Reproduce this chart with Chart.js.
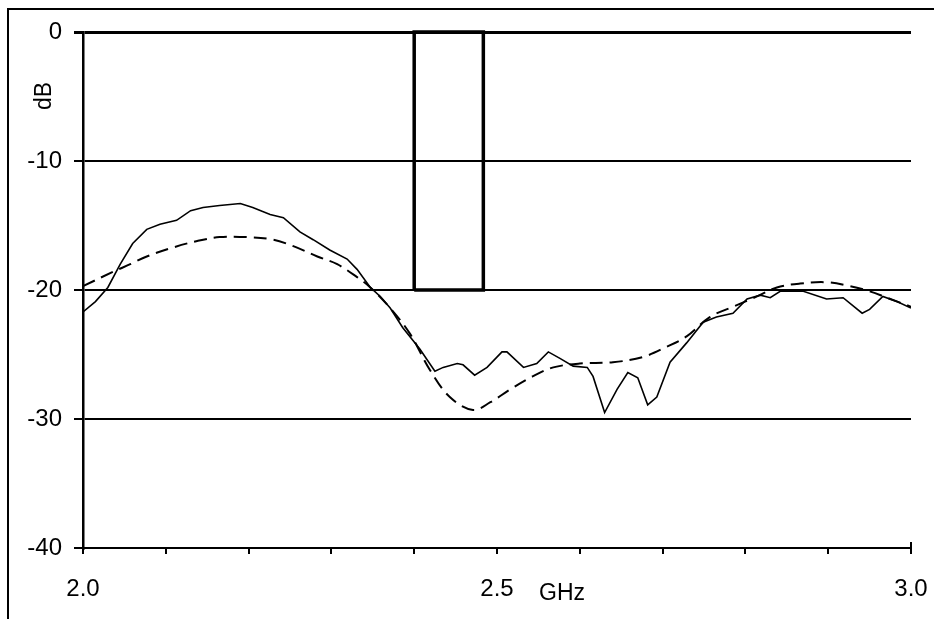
<!DOCTYPE html>
<html>
<head>
<meta charset="utf-8">
<script src="https://cdn.jsdelivr.net/npm/chart.js@4.4.1/dist/chart.umd.min.js"></script>
<style>
    body { margin: 0; background: #ffffff; }
    #wrap { position: relative; width: 934px; height: 619px; }
</style>
</head>
<body>
<div id="wrap"><canvas id="lossChart"></canvas></div>
<script>
// measured (solid)
const measFreq = [2.000, 2.015, 2.030, 2.045, 2.060, 2.077, 2.093, 2.113, 2.130, 2.145, 2.165, 2.190, 2.205, 2.226, 2.242, 2.262, 2.278, 2.298, 2.319, 2.331, 2.347, 2.359, 2.371, 2.386, 2.407, 2.425, 2.435, 2.452, 2.459, 2.473, 2.488, 2.506, 2.512, 2.532, 2.548, 2.562, 2.576, 2.592, 2.609, 2.616, 2.630, 2.645, 2.658, 2.670, 2.682, 2.693, 2.709, 2.729, 2.749, 2.765, 2.785, 2.802, 2.818, 2.830, 2.842, 2.870, 2.898, 2.918, 2.941, 2.950, 2.966, 2.983, 3.000];
const measDb = [-21.7, -20.9, -19.8, -18.0, -16.4, -15.3, -14.9, -14.6, -13.85, -13.6, -13.45, -13.3, -13.6, -14.15, -14.4, -15.5, -16.1, -16.9, -17.6, -18.4, -19.8, -20.5, -21.4, -22.9, -24.6, -26.3, -26.0, -25.7, -25.8, -26.6, -26.0, -24.8, -24.8, -26.0, -25.7, -24.8, -25.3, -25.9, -26.0, -26.7, -29.5, -27.7, -26.4, -26.8, -28.9, -28.3, -25.6, -24.1, -22.5, -22.1, -21.8, -20.7, -20.4, -20.6, -20.1, -20.1, -20.7, -20.6, -21.8, -21.5, -20.5, -20.9, -21.4];

// simulated (dashed)
const simFreq = [2.000, 2.036, 2.057, 2.077, 2.109, 2.138, 2.165, 2.198, 2.230, 2.254, 2.283, 2.307, 2.331, 2.347, 2.371, 2.395, 2.419, 2.443, 2.471, 2.492, 2.516, 2.543, 2.568, 2.600, 2.640, 2.676, 2.705, 2.729, 2.757, 2.785, 2.814, 2.838, 2.866, 2.898, 2.926, 2.950, 2.975, 3.000];
const simDb = [-19.7, -18.6, -18.0, -17.4, -16.7, -16.2, -15.9, -15.9, -16.1, -16.6, -17.4, -18.0, -19.0, -19.8, -21.4, -23.4, -26.2, -28.3, -29.3, -28.7, -27.7, -26.7, -26.0, -25.7, -25.6, -25.2, -24.4, -23.6, -22.1, -21.3, -20.5, -19.8, -19.5, -19.4, -19.7, -20.1, -20.7, -21.3];

// band mask box
const bandFreq = [2.4, 2.4, 2.4835, 2.4835, 2.4];
const bandDb = [-20, 0, 0, -20, -20];

const xLabels = ["2.0", "2.5", "3.0"];
const yTicks = [0, -10, -20, -30, -40];

function toPoints(xs, ys) {
    return xs.map((x, i) => ({ x: x, y: ys[i] }));
}

Chart.defaults.font.family = "'Liberation Sans', Arial, sans-serif";
Chart.defaults.color = "#000000";

const extras = {
    id: "extras",
    afterDraw(chart) {
        const c = chart.ctx;
        const x = chart.scales.x;
        const y = chart.scales.y;
        c.save();
        // outer frame
        c.strokeStyle = "#000";
        c.lineWidth = 2;
        c.beginPath();
        c.moveTo(8, 619);
        c.lineTo(8, 9);
        c.lineTo(934, 9);
        c.stroke();

        // end tick at 3.0 also rises above the axis
        const xe = x.getPixelForValue(3);
        const yb = y.getPixelForValue(-40);
        c.beginPath();
        c.moveTo(xe, yb - 6);
        c.lineTo(xe, yb);
        c.stroke();

        c.fillStyle = "#000";
        c.font = "23px 'Liberation Sans', Arial, sans-serif";
        c.textAlign = "center";
        c.textBaseline = "middle";
        c.fillText("GHz", 562, 594);

        c.translate(45, 96);
        c.rotate(-Math.PI / 2);
        c.fillText("dB", 0, 0);
        c.restore();
    }
};

new Chart(document.getElementById("lossChart"), {
    type: "scatter",
    data: {
        datasets: [
            {
                data: toPoints(measFreq, measDb),
                showLine: true,
                borderColor: "#000",
                borderWidth: 1.6,
                pointRadius: 0,
                tension: 0
            },
            {
                data: toPoints(simFreq, simDb),
                showLine: true,
                borderColor: "#000",
                borderWidth: 2,
                borderDash: [13, 7],
                pointRadius: 0,
                tension: 0.35
            },
            {
                data: toPoints(bandFreq, bandDb),
                showLine: true,
                borderColor: "#000",
                borderWidth: 3.5,
                pointRadius: 0,
                tension: 0,
                clip: false
            }
        ]
    },
    options: {
        responsive: true,
        maintainAspectRatio: false,
        animation: false,
        layout: {
            padding: { top: 32, right: 23, left: 0, bottom: 0 }
        },
        plugins: {
            legend: { display: false },
            tooltip: { enabled: false }
        },
        scales: {
            x: {
                type: "linear",
                min: 2,
                max: 3,
                afterFit(scale) {
                    scale.height = 71;
                    scale.paddingLeft = 0;
                    scale.paddingRight = 0;
                },
                border: { display: true, color: "#000", width: 2 },
                grid: {
                    drawOnChartArea: false,
                    drawTicks: true,
                    tickLength: 6,
                    color: "#000",
                    lineWidth: 2
                },
                ticks: {
                    stepSize: 0.1,
                    autoSkip: false,
                    maxRotation: 0,
                    padding: 21,
                    font: { size: 24 },
                    callback: function (value) {
                        const s = value.toFixed(1);
                        return xLabels.includes(s) ? s : "";
                    }
                }
            },
            y: {
                min: -40,
                max: 0,
                afterFit(scale) { scale.width = 83; },
                afterBuildTicks(scale) {
                    scale.ticks = yTicks.map(v => ({ value: v }));
                },
                border: { display: true, color: "#000", width: 2.5 },
                grid: {
                    color: "#000",
                    lineWidth: ctx => (ctx.tick && ctx.tick.value === 0 ? 3 : 2),
                    tickLength: 9
                },
                ticks: {
                    padding: 12,
                    font: { size: 24 }
                }
            }
        }
    },
    plugins: [extras]
});
</script>
</body>
</html>
